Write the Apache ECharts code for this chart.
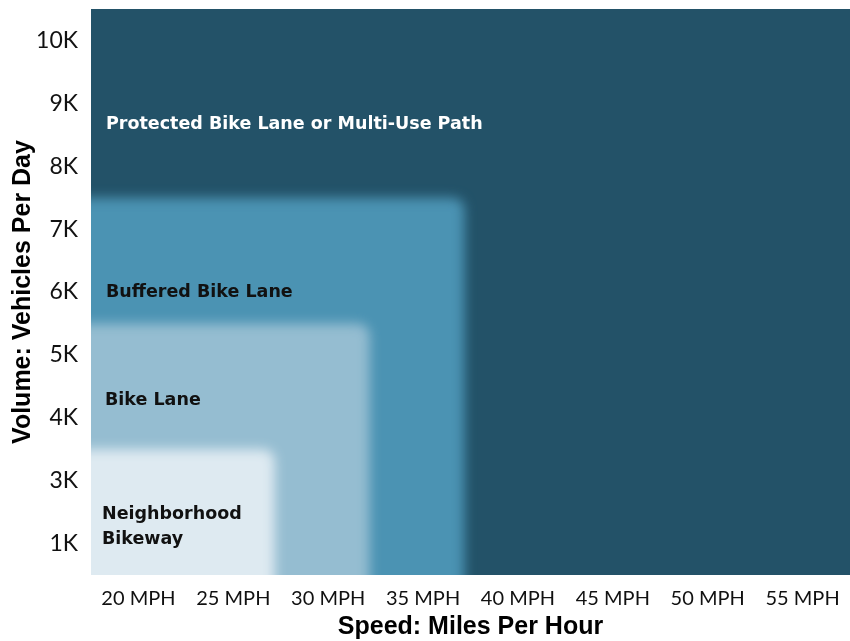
<!DOCTYPE html>
<html>
<head>
<meta charset="utf-8">
<title>Bikeway selection by speed and volume</title>
<script src="https://cdn.jsdelivr.net/npm/echarts@6/dist/echarts.min.js"></script>
<style>
  html, body { margin: 0; padding: 0; background: #fff; }
  #chart { width: 850px; height: 641px; }
</style>
</head>
<body>
<div id="chart"></div>
<script>
// axis categories
const speedLabels = ['20 MPH', '25 MPH', '30 MPH', '35 MPH', '40 MPH', '45 MPH', '50 MPH', '55 MPH'];
const volumeLabels = ['1K', '3K', '4K', '5K', '6K', '7K', '8K', '9K', '10K'];

// facility zones, drawn back to front
const zoneNames = ['Protected Bike Lane or Multi-Use Path', 'Buffered Bike Lane', 'Bike Lane', 'Neighborhood\nBikeway'];
const zoneMaxSpeed = [55, 35, 30, 25];   // highest speed category covered
const zoneMaxVolume = [10, 7, 5, 3];     // highest volume category covered (K/day)
const zoneColors = ['#235268', '#4b93b3', '#95bdd1', '#deeaf1'];
const zoneTextColors = ['#ffffff', '#111111', '#111111', '#111111'];

// label placement inside each zone (px from left edge, position on hidden volume axis)
const labelLeft = [15, 15, 14, 11];
const labelY = [7.17, 4.5, 2.78, 0.76];

// category upper edges on the hidden value axes (volume labels skip 2K)
const speedPos = mph => (mph - 20) / 5 + 1;
const volumePos = k => volumeLabels.indexOf(k + 'K') + 1;

const chart = echarts.init(document.getElementById('chart'));

const BLUR = 12;
const OFF = 3000;

function renderZone(params, api) {
  const i = params.dataIndex;
  const xEnd = api.value(0);
  const yEnd = api.value(1);
  const cs = params.coordSys;
  const tr = api.coord([xEnd, yEnd]);
  let right = tr[0];
  let top = tr[1];
  // edges on the plot border stay sharp: push them outside the clip area
  if (xEnd >= speedLabels.length) right = cs.x + cs.width + 40;
  else right -= 6;
  if (yEnd >= volumeLabels.length) top = cs.y - 40;
  const left = cs.x - 40;
  const bottom = cs.y + cs.height + 40;
  const color = zoneColors[i];
  const lp = api.coord([0, labelY[i]]);
  return {
    type: 'group',
    children: [
      {
        type: 'rect',
        shape: { x: left - OFF, y: top, width: right - left, height: bottom - top, r: 12 },
        style: {
          fill: color,
          shadowColor: color,
          shadowBlur: BLUR,
          shadowOffsetX: OFF
        }
      },
      {
        type: 'text',
        x: cs.x + labelLeft[i],
        y: lp[1],
        style: {
          text: zoneNames[i],
          fill: zoneTextColors[i],
          font: 'bold 17.5px "DejaVu Sans"',
          lineHeight: 25,
          verticalAlign: 'middle',
          align: 'left'
        }
      }
    ]
  };
}

const zoneData = zoneNames.map((n, i) => [speedPos(zoneMaxSpeed[i]), volumePos(zoneMaxVolume[i])]);

const titleStyle = { fontFamily: 'Liberation Sans', fontWeight: 'bold', fontSize: 25, color: '#000' };

chart.setOption({
  animation: false,
  backgroundColor: '#fff',
  grid: { left: 91, right: 0, top: 9, bottom: 66, outerBoundsMode: 'none', containLabel: false },
  xAxis: [
    {
      type: 'category',
      data: speedLabels,
      name: 'Speed: Miles Per Hour',
      nameLocation: 'middle',
      nameGap: 40,
      nameMoveOverlap: false,
      nameTextStyle: titleStyle,
      axisLine: { show: false },
      axisTick: { show: false },
      axisLabel: { interval: 0, fontFamily: 'Lato', fontSize: 20, color: '#111', margin: 14 },
      splitLine: { show: false }
    },
    { type: 'value', min: 0, max: speedLabels.length, show: false }
  ],
  yAxis: [
    {
      type: 'category',
      data: volumeLabels,
      name: 'Volume: Vehicles Per Day',
      nameLocation: 'middle',
      nameGap: 55,
      nameMoveOverlap: false,
      nameTextStyle: titleStyle,
      axisLine: { show: false },
      axisTick: { show: false },
      axisLabel: { interval: 0, fontFamily: 'Lato', fontSize: 23, color: '#111', margin: 13 },
      splitLine: { show: false }
    },
    { type: 'value', min: 0, max: volumeLabels.length, show: false }
  ],
  series: [
    {
      type: 'custom',
      xAxisIndex: 1,
      yAxisIndex: 1,
      clip: true,
      renderItem: renderZone,
      data: zoneData
    }
  ]
});
</script>
</body>
</html>
